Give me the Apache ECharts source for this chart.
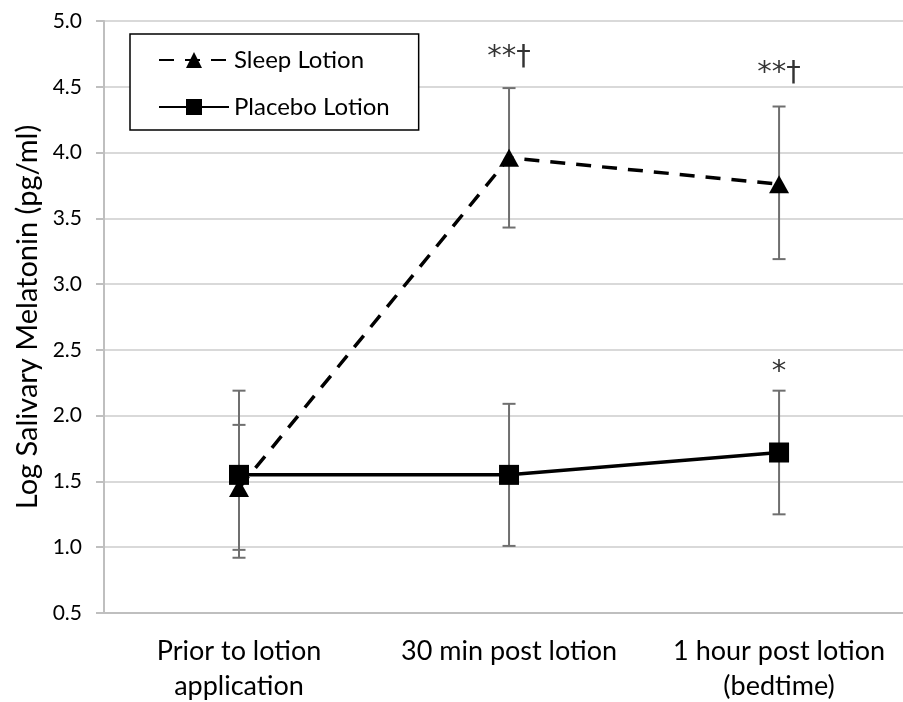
<!DOCTYPE html>
<html>
<head>
<meta charset="utf-8">
<script src="https://cdn.jsdelivr.net/npm/echarts@6/dist/echarts.min.js"></script>
<style>
    html, body { margin: 0; padding: 0; background: #fff; }
    #chart { width: 903px; height: 702px; }
</style>
</head>
<body>
<div id="chart"></div>
<script>
// 数据
const categories = ['Prior to lotion\napplication', '30 min post lotion', '1 hour post lotion\n(bedtime)'];
const sleepMean = [1.45, 3.96, 3.76];
const sleepLow = [0.98, 3.43, 3.19];
const sleepHigh = [1.93, 4.49, 4.35];
const placeboMean = [1.55, 1.55, 1.72];
const placeboLow = [0.92, 1.01, 1.25];
const placeboHigh = [2.19, 2.09, 2.19];
// 显著性标注
const noteX = [1, 2, 2];
const noteY = [4.72, 4.6, 2.33];
const noteText = ['**\u2020', '**\u2020', '*'];
const yTicks = [0.5, 5.0, 0.5]; // min, max, interval

const FONT = 'Lato';

function toPairs(vals) {
    let d = [];
    for (let i = 0; i < vals.length; i++) {
        d.push([i, vals[i]]);
    }
    return d;
}

function errData(low, high) {
    let d = [];
    for (let i = 0; i < low.length; i++) {
        d.push([i, low[i], high[i]]);
    }
    return d;
}

// 误差线
function renderErr(params, api) {
    const lo = api.coord([api.value(0), api.value(1)]);
    const hi = api.coord([api.value(0), api.value(2)]);
    const w = 6.5;
    const style = { stroke: '#6f6f6f', lineWidth: 2 };
    return {
        type: 'group',
        children: [
            { type: 'line', shape: { x1: lo[0], y1: lo[1], x2: hi[0], y2: hi[1] }, style: style },
            { type: 'line', shape: { x1: lo[0] - w, y1: lo[1], x2: lo[0] + w, y2: lo[1] }, style: style },
            { type: 'line', shape: { x1: hi[0] - w, y1: hi[1], x2: hi[0] + w, y2: hi[1] }, style: style }
        ]
    };
}

let notes = [];
for (let i = 0; i < noteText.length; i++) {
    notes.push([noteX[i], noteY[i], noteText[i]]);
}

const myChart = echarts.init(document.getElementById('chart'));
const option = {
    animation: false,
    grid: { left: 104, top: 21, right: 0, bottom: 89, outerBoundsMode: 'none' },
    legend: {
        data: ['Sleep Lotion', 'Placebo Lotion'],
        orient: 'vertical',
        left: 130,
        top: 34,
        padding: [14, 29, 11, 28],
        itemGap: 23,
        itemWidth: 70,
        itemHeight: 20,
        backgroundColor: '#fff',
        borderColor: '#000',
        borderWidth: 1.5,
        borderRadius: 0,
        textStyle: { fontFamily: FONT, fontSize: 24, color: '#000' }
    },
    xAxis: {
        type: 'value',
        min: -0.5,
        max: 2.459,
        splitLine: { show: false },
        axisLine: { lineStyle: { color: '#bfbfbf', width: 2 } },
        axisTick: { show: false },
        axisLabel: {
            customValues: [0, 1, 2],
            fontFamily: FONT, fontSize: 27, color: '#000',
            lineHeight: 35, margin: 21,
            formatter: v => categories[Math.round(v)]
        }
    },
    yAxis: {
        type: 'value',
        min: yTicks[0],
        max: yTicks[1],
        interval: yTicks[2],
        name: 'Log Salivary Melatonin (pg/ml)',
        nameLocation: 'middle',
        nameGap: 62,
        nameTextStyle: { fontFamily: FONT, fontSize: 29, color: '#000' },
        axisLine: { show: true, onZero: false, lineStyle: { color: '#bfbfbf', width: 2 } },
        axisTick: { show: true, length: 8, lineStyle: { color: '#bfbfbf', width: 2 } },
        splitLine: { lineStyle: { color: '#d9d9d9', width: 2 } },
        axisLabel: {
            fontFamily: FONT, fontSize: 21, color: '#000', margin: 22,
            formatter: v => v.toFixed(1)
        }
    },
    series: [
        {
            name: 'Sleep Lotion',
            type: 'line',
            data: toPairs(sleepMean),
            symbol: 'triangle',
            symbolSize: [20, 18],
            z: 3,
            lineStyle: { color: '#000', width: 3.5, type: [15, 11] },
            itemStyle: { color: '#000' }
        },
        {
            name: 'Placebo Lotion',
            type: 'line',
            data: toPairs(placeboMean),
            symbol: 'rect',
            symbolSize: 20,
            z: 3,
            lineStyle: { color: '#000', width: 3.5 },
            itemStyle: { color: '#000' }
        },
        {
            name: 'sleepErr',
            type: 'custom',
            renderItem: renderErr,
            data: errData(sleepLow, sleepHigh),
            z: 2
        },
        {
            name: 'placeboErr',
            type: 'custom',
            renderItem: renderErr,
            data: errData(placeboLow, placeboHigh),
            z: 2
        },
        {
            name: 'notes',
            type: 'scatter',
            data: notes,
            symbolSize: 1,
            itemStyle: { color: 'rgba(0,0,0,0)' },
            label: {
                show: true,
                position: 'inside',
                fontFamily: 'DejaVu Sans',
                fontSize: 29,
                color: '#000',
                formatter: p => p.value[2]
            }
        }
    ]
};

option && myChart.setOption(option);
</script>
</body>
</html>
